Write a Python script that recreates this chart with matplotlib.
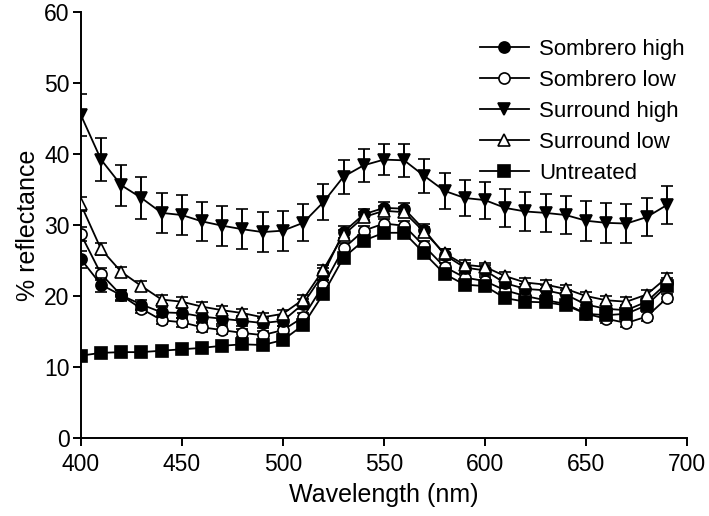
import numpy as np
import matplotlib
matplotlib.use('Agg')
import matplotlib.pyplot as plt

plt.rcParams['font.family'] = ['Liberation Sans', 'DejaVu Sans']

# Wavelengths (nm)
wavelength = list(range(400, 700, 10))

# Mean % reflectance per treatment
sombrero_high = [25.2, 21.6, 20.1, 18.8, 17.7, 17.6, 17.1, 16.8, 16.5, 16.2,
                 16.5, 18.9, 23.1, 29.0, 31.5, 32.4, 32.3, 29.3, 25.8, 24.0,
                 23.6, 21.8, 21.0, 20.8, 20.2, 18.8, 18.2, 18.0, 19.2, 21.8]
sombrero_low = [28.7, 23.1, 20.1, 18.2, 16.6, 16.3, 15.6, 15.2, 14.8, 14.5,
                15.2, 17.0, 21.5, 26.7, 29.2, 30.2, 29.9, 27.0, 24.1, 22.6,
                22.1, 20.8, 20.0, 19.4, 18.9, 17.5, 16.8, 16.2, 17.1, 19.7]
surround_high = [45.5, 39.2, 35.6, 33.8, 31.7, 31.4, 30.5, 29.9, 29.4, 29.0,
                 29.2, 30.3, 33.2, 36.8, 38.4, 39.2, 39.1, 36.9, 34.8, 33.8,
                 33.5, 32.4, 31.9, 31.7, 31.4, 30.6, 30.3, 30.2, 31.1, 32.8]
surround_low = [32.9, 26.6, 23.4, 21.4, 19.5, 19.2, 18.5, 18.0, 17.6, 17.0,
                17.5, 19.5, 23.7, 28.6, 31.1, 32.0, 31.8, 29.0, 26.0, 24.4,
                24.1, 22.8, 21.9, 21.6, 21.0, 20.0, 19.4, 19.2, 20.2, 22.6]
untreated = [11.6, 12.0, 12.1, 12.1, 12.3, 12.5, 12.7, 13.0, 13.2, 13.1,
             13.8, 15.9, 20.3, 25.4, 27.8, 28.9, 28.9, 26.0, 23.1, 21.6,
             21.4, 19.7, 19.2, 19.1, 18.7, 17.5, 17.3, 17.5, 18.7, 21.4]

# Standard errors
sombrero_high_err = [1.2, 1.0, 0.8, 0.7, 0.7, 0.7, 0.7, 0.7, 0.7, 0.7,
                     0.7, 0.7, 0.8, 0.8, 0.8, 0.8, 0.8, 0.8, 0.8, 0.7,
                     0.7, 0.7, 0.7, 0.7, 0.7, 0.7, 0.7, 0.7, 0.7, 0.8]
sombrero_low_err = [1.0, 0.8, 0.7, 0.6, 0.6, 0.6, 0.6, 0.6, 0.6, 0.6,
                    0.6, 0.6, 0.7, 0.7, 0.7, 0.7, 0.7, 0.7, 0.6, 0.6,
                    0.6, 0.6, 0.6, 0.6, 0.6, 0.6, 0.6, 0.6, 0.6, 0.6]
surround_high_err = [3.0, 3.0, 2.9, 2.9, 2.8, 2.8, 2.8, 2.8, 2.8, 2.8,
                     2.8, 2.6, 2.5, 2.4, 2.3, 2.2, 2.3, 2.4, 2.5, 2.6,
                     2.6, 2.7, 2.7, 2.7, 2.7, 2.8, 2.8, 2.8, 2.7, 2.7]
surround_low_err = [1.0, 0.8, 0.7, 0.7, 0.6, 0.6, 0.6, 0.6, 0.6, 0.6,
                    0.6, 0.6, 0.7, 0.7, 0.7, 0.7, 0.7, 0.7, 0.6, 0.6,
                    0.6, 0.6, 0.6, 0.6, 0.6, 0.6, 0.6, 0.6, 0.6, 0.6]
untreated_err = [0.6, 0.5, 0.5, 0.5, 0.5, 0.5, 0.5, 0.6, 0.6, 0.7,
                 0.7, 0.7, 0.7, 0.7, 0.7, 0.7, 0.7, 0.7, 0.7, 0.7,
                 0.7, 0.7, 0.7, 0.7, 0.7, 0.7, 0.7, 0.7, 0.7, 0.7]

series = [
    ('Sombrero high', sombrero_high, sombrero_high_err, 'o', 'black', 3),
    ('Sombrero low', sombrero_low, sombrero_low_err, 'o', 'white', 1),
    ('Surround high', surround_high, surround_high_err, 'v', 'black', 5),
    ('Surround low', surround_low, surround_low_err, '^', 'white', 4),
    ('Untreated', untreated, untreated_err, 's', 'black', 2),
]

fig = plt.figure(figsize=(7.09, 5.16), dpi=100)
ax = fig.add_axes([0.114, 0.151, 0.855, 0.826])

for label, vals, err, mk, face, z in series:
    ax.errorbar(wavelength, vals, yerr=err, color='black', marker=mk,
                markerfacecolor=face, markeredgecolor='black', markersize=8,
                markeredgewidth=1.2, linewidth=1.3, elinewidth=1.4,
                capsize=4.5, capthick=1.4, label=label, zorder=z)

ax.set_xlim(400, 700)
ax.set_ylim(0, 60)
ax.set_xticks(np.arange(400, 701, 50))
ax.set_yticks(np.arange(0, 61, 10))
ax.spines['top'].set_visible(False)
ax.spines['right'].set_visible(False)
ax.spines['left'].set_linewidth(1.4)
ax.spines['bottom'].set_linewidth(1.4)
ax.tick_params(direction='out', length=6, width=1.4, labelsize=16.5)
ax.tick_params(axis='x', pad=5)
ax.tick_params(axis='y', pad=2)
ax.set_xlabel('Wavelength (nm)', fontsize=18, labelpad=5)
ax.set_ylabel('% reflectance', fontsize=18, labelpad=3)

handles, labels = ax.get_legend_handles_labels()
handles = [h[0] for h in handles]
fig.legend(handles, labels, loc='upper left', bbox_to_anchor=(480 / 709, 1 - 39 / 516),
           frameon=False, fontsize=16, handlelength=2.2, handletextpad=0.45,
           labelspacing=0.45, borderpad=0, borderaxespad=0)

plt.savefig('out.png', dpi=100)
